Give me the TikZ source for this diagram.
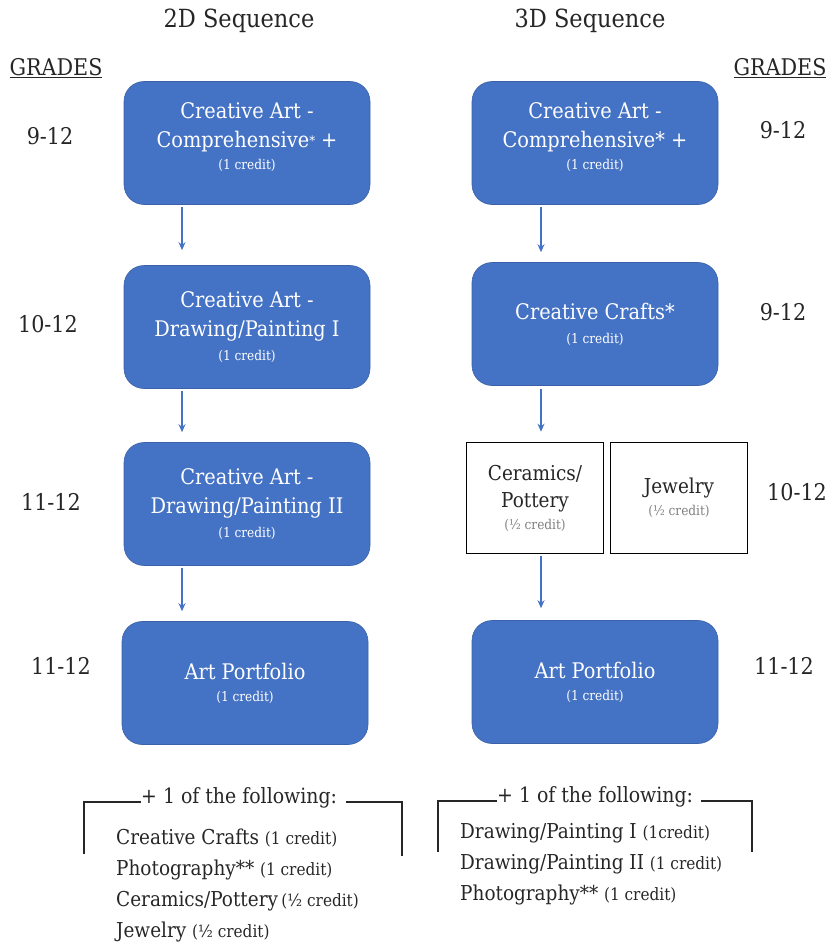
\documentclass[tikz,border=0pt]{standalone}
\usepackage{fontspec}
\setmainfont{DejaVu Serif Condensed}
\usetikzlibrary{arrows.meta,calc}
\definecolor{boxblue}{HTML}{4472C4}
\definecolor{txt}{HTML}{262626}
\newcommand{\crd}[1]{{\fontsize{13.5}{15}\selectfont #1}}
\newcommand{\lcrd}[1]{{\fontsize{17}{18}\selectfont #1}}
\begin{document}
\begin{tikzpicture}[x=1pt,y=-1pt,
  bluebox/.style={draw=boxblue!85!black, line width=0.6pt, fill=boxblue, rounded corners=20pt,
    minimum width=246pt, minimum height=123pt, text=white, align=center,
    font=\fontsize{21.5}{29}\selectfont, inner sep=0pt},
  whitebox/.style={draw=black, line width=1.6pt, fill=white, minimum width=137pt, minimum height=111pt,
    text=txt, align=center, font=\fontsize{20.5}{27}\selectfont, inner sep=0pt},
  grade/.style={text=txt, font=\fontsize{23}{26}\selectfont, inner sep=0pt},
  title/.style={text=txt, font=\fontsize{25}{32}\selectfont, inner sep=0pt},
  arr/.style={draw=boxblue, line width=1.3pt, -{Stealth[length=8pt,width=7pt]}},
  brk/.style={draw=txt, line width=1.4pt},
  listtxt/.style={text=txt, align=left, font=\fontsize{20.5}{31}\selectfont, inner sep=0pt}
]
\useasboundingbox (0,0) rectangle (828,944);

% titles
\node[title] (t2d) at (239,21) {2D Sequence};
\node[title] (t3d) at (590,21) {3D Sequence};
\node[grade] (gl) at (56,68) {\underline{GRADES}};
\node[grade] (gr) at (780,68) {\underline{GRADES}};

% left column
\node[bluebox] (l1) at (247,143) {Creative Art -\\Comprehensive\raisebox{2pt}{\fontsize{13}{13}\selectfont*} +\\[-7pt]\crd{(1 credit)}\\[-24pt]\strut};
\node[bluebox] (l2) at (247,327) {Creative Art -\\Drawing/Painting I\\[-5pt]\crd{(1 credit)}};
\node[bluebox] (l3) at (247,504) {Creative Art -\\Drawing/Painting II\\[-5pt]\crd{(1 credit)}};
\node[bluebox] (l4) at (245,683) {Art Portfolio\\[-7pt]\crd{(1 credit)}};

% right column
\node[bluebox] (r1) at (595,143) {Creative Art -\\Comprehensive* +\\[-7pt]\crd{(1 credit)}\\[-24pt]\strut};
\node[bluebox] (r2) at (595,324) {Creative Crafts*\\[-5pt]\crd{(1 credit)}};
\node[whitebox] (r3a) at (535,498) {Ceramics/\\Pottery\\[-5pt]{\color{gray}\crd{(½ credit)}}};
\node[whitebox] (r3b) at (679,498) {Jewelry\\[-5pt]{\color{gray}\crd{(½ credit)}}};
\node[bluebox] (r4) at (595,682) {Art Portfolio\\[-7pt]\crd{(1 credit)}};

% grades
\node[grade] (g1) at (50,136) {9-12};
\node[grade] (g2) at (48,324) {10-12};
\node[grade] (g3) at (51,502) {11-12};
\node[grade] (g4) at (61,666) {11-12};
\node[grade] (h1) at (783,130) {9-12};
\node[grade] (h2) at (783,312) {9-12};
\node[grade] (h3) at (797,492) {10-12};
\node[grade] (h4) at (784,666) {11-12};

% arrows
\coordinate (lx) at (182,0);
\coordinate (rx) at (541,0);
\draw[arr, shorten <=2pt, shorten >=15pt] (l1.south -| lx) -- (l2.north -| lx);
\draw[arr, shorten <=2pt, shorten >=10pt] (l2.south -| lx) -- (l3.north -| lx);
\draw[arr, shorten <=2pt, shorten >=10pt] (l3.south -| lx) -- (l4.north -| lx);
\draw[arr, shorten <=2pt, shorten >=10pt] (r1.south -| rx) -- (r2.north -| rx);
\draw[arr, shorten <=3pt, shorten >=10pt] (r2.south -| rx) -- (r3a.north -| rx);
\draw[arr, shorten <=2pt, shorten >=12pt] (r3a.south -| rx) -- (r4.north -| rx);

% bottom left bracket
\node[text=txt, font=\fontsize{21}{26}\selectfont, inner sep=0pt, anchor=west] (hl) at (141,798) {+ 1 of the following:};
\coordinate (bl1) at (84,854);
\coordinate (bl2) at (402,856);
\draw[brk] (bl1) |- (hl.west |- 0,802);
\draw[brk] (bl2) |- ($(hl.east |- 0,802)+(9,0)$);
\node[listtxt, anchor=north west] (ll) at (116,829) {Creative Crafts \lcrd{(1 credit)}\\Photography** \lcrd{(1 credit)}\\Ceramics/Pottery\,\lcrd{(½ credit)}\\Jewelry \lcrd{(½ credit)}};

% bottom right bracket
\node[text=txt, font=\fontsize{21}{26}\selectfont, inner sep=0pt, anchor=west] (hr) at (497,797) {+ 1 of the following:};
\coordinate (br1) at (438,852);
\coordinate (br2) at (752,852);
\draw[brk] (br1) |- (hr.west |- 0,801);
\draw[brk] (br2) |- ($(hr.east |- 0,801)+(8,0)$);
\node[listtxt, anchor=north west] (rl) at (460,823) {Drawing/Painting I \lcrd{(1credit)}\\Drawing/Painting II \lcrd{(1 credit)}\\Photography** \lcrd{(1 credit)}};
\end{tikzpicture}
\end{document}
